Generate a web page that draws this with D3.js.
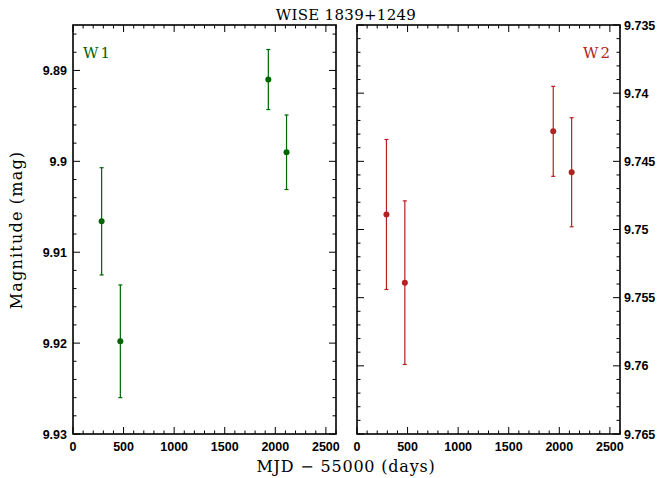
<!DOCTYPE html>
<html><head><meta charset="utf-8">
<script src="https://cdn.jsdelivr.net/npm/d3@7"></script>
<style>body{margin:0;background:#fff}</style>
</head><body>
<svg id="c" width="663" height="478"></svg>
<script>
const title = "WISE 1839+1249";
const xLabel = "MJD \u2212 55000 (days)";
const yLabel = "Magnitude (mag)";
const w1Days = [283, 468, 1931, 2111];
const w1Mag  = [9.9066, 9.9198, 9.8910, 9.8990];
const w1Err  = [0.0059, 0.0062, 0.0033, 0.0041];
const w2Days = [291, 473, 1940, 2122];
const w2Mag  = [9.7489, 9.7539, 9.7428, 9.7458];
const w2Err  = [0.0055, 0.0060, 0.0033, 0.0040];
const xTicks = [0, 500, 1000, 1500, 2000, 2500];
const w1YTicks = [9.89, 9.9, 9.91, 9.92, 9.93];
const w2YTicks = [9.735, 9.74, 9.745, 9.75, 9.755, 9.76, 9.765];

const svg = d3.select("#c");
const plotTop = 25, plotBottom = 434;
const serif = "'DejaVu Serif', 'Liberation Serif', serif";
const sans = "'Liberation Sans', Arial, sans-serif";

function panel(x0, x1, yDom, yTicks, yMinorStep, days, mag, err, color, label, labelSide, tickSide) {
  const g = svg.append("g");
  const x = d3.scaleLinear().domain([0, 2600]).range([x0, x1]);
  const y = d3.scaleLinear().domain(yDom).range([plotTop, plotBottom]);
  const minorX = d3.range(0, 2601, 100);
  const minorY = d3.range(Math.round(yDom[0]/yMinorStep), Math.round(yDom[1]/yMinorStep)+1).map(v => v*yMinorStep);
  const isMajorX = v => xTicks.some(t => Math.abs(t - v) < 1e-6);
  const isMajorY = v => yTicks.some(t => Math.abs(t - v) < 1e-7);
  minorX.forEach(v => {
    const L = isMajorX(v) ? 7 : 3.5;
    g.append("line").attr("x1", x(v)).attr("x2", x(v)).attr("y1", plotBottom).attr("y2", plotBottom - L).attr("stroke", "#000").attr("stroke-width", 1);
    g.append("line").attr("x1", x(v)).attr("x2", x(v)).attr("y1", plotTop).attr("y2", plotTop + L).attr("stroke", "#000").attr("stroke-width", 1);
  });
  minorY.forEach(v => {
    const L = isMajorY(v) ? 7 : 3.5;
    g.append("line").attr("x1", x0).attr("x2", x0 + L).attr("y1", y(v)).attr("y2", y(v)).attr("stroke", "#000").attr("stroke-width", 1);
    g.append("line").attr("x1", x1).attr("x2", x1 - L).attr("y1", y(v)).attr("y2", y(v)).attr("stroke", "#000").attr("stroke-width", 1);
  });
  g.append("rect").attr("x", x0).attr("y", plotTop).attr("width", x1 - x0).attr("height", plotBottom - plotTop)
    .attr("fill", "none").attr("stroke", "#000").attr("stroke-width", 1.6);
  xTicks.forEach(v => {
    g.append("text").attr("x", x(v)).attr("y", 451).attr("text-anchor", "middle")
      .attr("font-family", sans).attr("font-weight", "bold").attr("font-size", 12.5).text(v);
  });
  yTicks.forEach(v => {
    const t = g.append("text").attr("y", y(v) + 4.5)
      .attr("font-family", sans).attr("font-weight", "bold").attr("font-size", 12.5).text(String(v));
    if (tickSide === "left") t.attr("x", x0 - 6).attr("text-anchor", "end");
    else t.attr("x", x1 + 4).attr("text-anchor", "start");
  });
  days.forEach((d, i) => {
    const cx = x(d), ylo = y(mag[i] - err[i]), yhi = y(mag[i] + err[i]);
    g.append("line").attr("x1", cx).attr("x2", cx).attr("y1", ylo).attr("y2", yhi).attr("stroke", color).attr("stroke-width", 1.2);
    [ylo, yhi].forEach(yy => g.append("line").attr("x1", cx - 2).attr("x2", cx + 2).attr("y1", yy).attr("y2", yy).attr("stroke", color).attr("stroke-width", 1.2));
    g.append("circle").attr("cx", cx).attr("cy", y(mag[i])).attr("r", 3).attr("fill", color);
  });
  const lt = g.append("text").attr("y", 58).attr("fill", color)
    .attr("font-family", serif).attr("font-size", 15).attr("letter-spacing", 2).text(label);
  if (labelSide === "left") lt.attr("x", x0 + 10);
  else lt.attr("x", x1 - 8).attr("text-anchor", "end");
}

panel(73, 336, [9.885, 9.93], w1YTicks, 0.002, w1Days, w1Mag, w1Err, "#006400", "W1", "left", "left");
panel(357, 620, [9.735, 9.765], w2YTicks, 0.001, w2Days, w2Mag, w2Err, "#b22222", "W2", "right", "right");

svg.append("text").attr("x", 346).attr("y", 20).attr("text-anchor", "middle")
  .attr("font-family", serif).attr("font-size", 15).attr("letter-spacing", 0.3).text(title);
svg.append("text").attr("x", 346).attr("y", 472).attr("text-anchor", "middle")
  .attr("font-family", serif).attr("font-size", 16).attr("letter-spacing", 0.8).text(xLabel);
svg.append("text").attr("transform", "translate(22,230) rotate(-90)").attr("text-anchor", "middle")
  .attr("font-family", serif).attr("font-size", 16).attr("letter-spacing", 1.2).text(yLabel);
</script>
</body></html>
